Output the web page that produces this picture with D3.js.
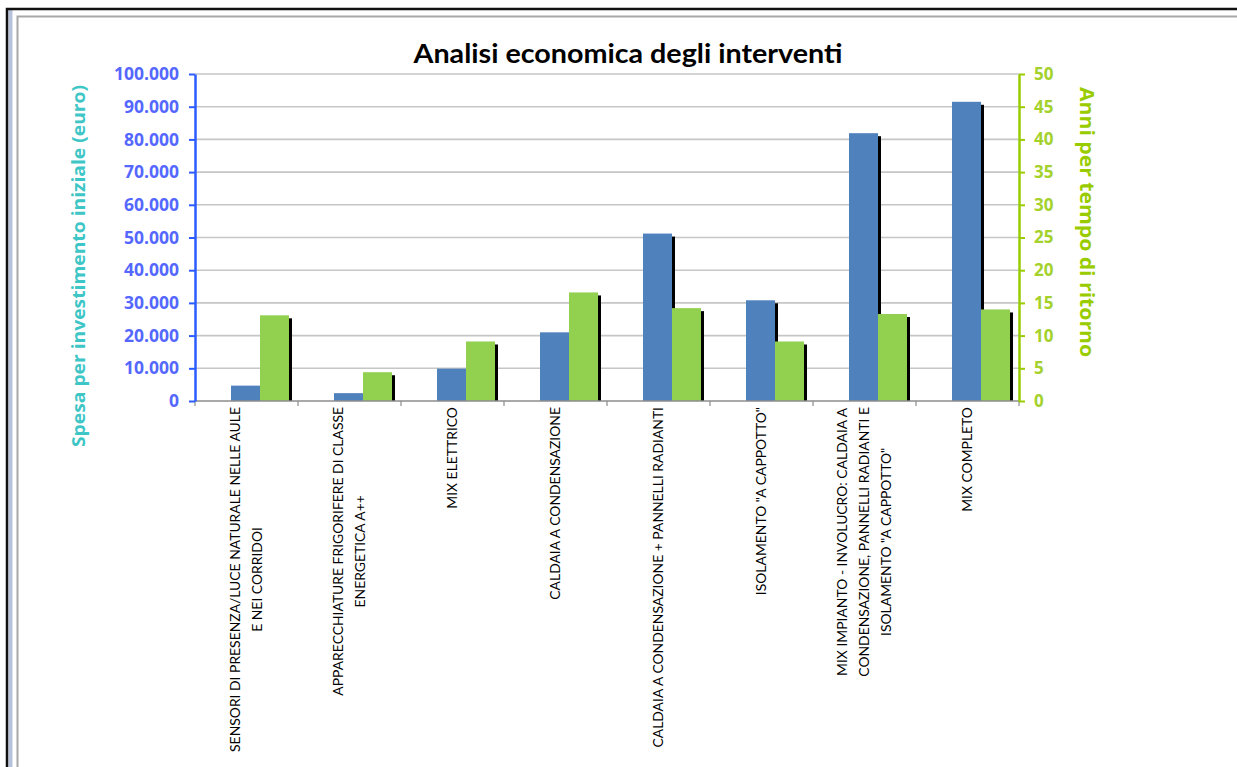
<!DOCTYPE html>
<html>
<head>
<meta charset="utf-8">
<script src="https://cdn.jsdelivr.net/npm/d3@7"></script>
<style>
  body { margin: 0; background: #fff; }
  svg { display: block; }
</style>
</head>
<body>
<svg id="chart"></svg>
<script>
// Categories (already wrapped the way the original shows them)
const categories = [
    ["SENSORI DI PRESENZA/LUCE NATURALE NELLE AULE", "E NEI CORRIDOI"],
    ["APPARECCHIATURE FRIGORIFERE DI CLASSE", "ENERGETICA A++"],
    ["MIX ELETTRICO"],
    ["CALDAIA A CONDENSAZIONE"],
    ["CALDAIA A CONDENSAZIONE + PANNELLI RADIANTI"],
    ["ISOLAMENTO \"A CAPPOTTO\""],
    ["MIX IMPIANTO - INVOLUCRO: CALDAIA A", "CONDENSAZIONE, PANNELLI RADIANTI E", "ISOLAMENTO \"A CAPPOTTO\""],
    ["MIX COMPLETO"]
];

// spesa per investimento iniziale (euro) - left axis
const spesa = [4700, 2400, 9900, 21000, 51200, 30800, 81900, 91500];
// anni per tempo di ritorno - right axis
const anni = [13.1, 4.4, 9.1, 16.6, 14.2, 9.1, 13.3, 14.0];

const leftTicks = d3.range(0, 100001, 10000);
const rightTicks = d3.range(0, 51, 5);

const W = 1237, H = 767;
const plot = { left: 195, right: 1019, top: 74, bottom: 401 };

const svg = d3.select("#chart").attr("width", W).attr("height", H);

// frame of the embedded picture
svg.append("rect").attr("x", 8.5).attr("y", 10).attr("width", 4).attr("height", H)
    .attr("fill", "#b8c2dc");
svg.append("path").attr("d", `M7,${H} V9 H${W}`).attr("fill", "none")
    .attr("stroke", "#111").attr("stroke-width", 2.5);
svg.append("path").attr("d", `M17.5,${H} V16.5 H${W}`).attr("fill", "none")
    .attr("stroke", "#a8a8a8").attr("stroke-width", 2);

// scales
const idx = categories.map((d, i) => i);
const x = d3.scaleBand().domain(idx).range([plot.left, plot.right]).padding(0);
const bw = x.bandwidth();
const xs = d3.scaleBand().domain(["spesa", "anni"])
    .range([bw * 36 / 103, bw * 94 / 103]).padding(0);

const yL = d3.scaleLinear().domain([0, 100000]).range([plot.bottom, plot.top]);
const yR = d3.scaleLinear().domain([0, 50]).range([plot.bottom, plot.top]);

const itFormat = d3.formatLocale({ decimal: ",", thousands: ".", grouping: [3], currency: ["", "€"] }).format(",");

// gridlines
svg.append("g").selectAll("line")
    .data(leftTicks.slice(1))
    .join("line")
    .attr("x1", plot.left).attr("x2", plot.right)
    .attr("y1", d => yL(d)).attr("y2", d => yL(d))
    .attr("stroke", "#c6c6c6").attr("stroke-width", 1.6);

// bars with the little black shadow on the right
const groups = svg.append("g").selectAll("g")
    .data(idx)
    .join("g")
    .attr("transform", i => `translate(${x(i)},0)`);

const series = [
    { key: "spesa", values: spesa, scale: yL, color: "#4f81bd" },
    { key: "anni", values: anni, scale: yR, color: "#92d050" }
];

series.forEach(s => {
    groups.append("rect")
        .attr("x", xs(s.key) + 3)
        .attr("y", i => s.scale(s.values[i]) + 3)
        .attr("width", xs.bandwidth())
        .attr("height", i => plot.bottom - s.scale(s.values[i]) - 3)
        .attr("fill", "#000");
    groups.append("rect")
        .attr("x", xs(s.key))
        .attr("y", i => s.scale(s.values[i]))
        .attr("width", xs.bandwidth())
        .attr("height", i => plot.bottom - s.scale(s.values[i]))
        .attr("fill", s.color);
});

// bottom category axis
svg.append("line")
    .attr("x1", plot.left).attr("x2", plot.right)
    .attr("y1", plot.bottom).attr("y2", plot.bottom)
    .attr("stroke", "#8c8c8c").attr("stroke-width", 1.5);
svg.append("g").selectAll("line")
    .data(idx.concat([categories.length]))
    .join("line")
    .attr("x1", i => plot.left + i * bw).attr("x2", i => plot.left + i * bw)
    .attr("y1", plot.bottom).attr("y2", plot.bottom + 5)
    .attr("stroke", "#8c8c8c").attr("stroke-width", 1.2);

const labels = svg.append("g").selectAll("g")
    .data(idx)
    .join("g")
    .attr("transform", i => `translate(${x(i) + bw / 2},407) rotate(-90)`)
    .style("font-family", "Lato, sans-serif")
    .style("font-size", "13.9px")
    .attr("fill", "#000");

labels.each(function(i) {
    const g = d3.select(this);
    const lines = categories[i];
    const n = lines.length;
    const texts = g.selectAll("text")
        .data(lines)
        .join("text")
        .attr("text-anchor", "middle")
        .attr("y", (d, k) => (k - (n - 1) / 2) * 22)
        .attr("dy", "0.35em")
        .text(d => d);
    let maxLen = 0;
    texts.each(function() { maxLen = Math.max(maxLen, this.getComputedTextLength()); });
    texts.attr("x", -maxLen / 2);
});

// left axis
const axL = svg.append("g")
    .attr("transform", `translate(${plot.left},0)`)
    .call(d3.axisLeft(yL).tickValues(leftTicks).tickFormat(itFormat).tickSizeInner(6).tickSizeOuter(0).tickPadding(10));
axL.select(".domain").attr("stroke", "#2b5cff").attr("stroke-width", 2.5);
axL.selectAll(".tick line").attr("stroke", "#2b5cff").attr("stroke-width", 2);
axL.selectAll(".tick text")
    .attr("fill", "#5468ff")
    .style("font-family", "'Open Sans', sans-serif")
    .style("font-size", "17.5px")
    .style("font-weight", "bold");

// right axis
const axR = svg.append("g")
    .attr("transform", `translate(${plot.right},0)`)
    .call(d3.axisRight(yR).tickValues(rightTicks).tickSizeInner(6).tickSizeOuter(0).tickPadding(9));
axR.select(".domain").attr("stroke", "#99cc00").attr("stroke-width", 2.5);
axR.selectAll(".tick line").attr("stroke", "#99cc00").attr("stroke-width", 2);
axR.selectAll(".tick text")
    .attr("fill", "#a4d12c")
    .style("font-family", "'Open Sans', sans-serif")
    .style("font-size", "17px")
    .style("font-weight", "bold");

// title
svg.append("text")
    .attr("x", 628).attr("y", 63)
    .attr("text-anchor", "middle")
    .attr("textLength", 429)
    .attr("lengthAdjust", "spacingAndGlyphs")
    .style("font-family", "Lato, sans-serif")
    .style("font-size", "27px")
    .style("font-weight", "bold")
    .attr("fill", "#000")
    .text("Analisi economica degli interventi");

// axis titles
svg.append("text")
    .attr("transform", `translate(79,266) rotate(-90)`)
    .attr("text-anchor", "middle")
    .attr("dy", "0.35em")
    .attr("textLength", 362)
    .attr("lengthAdjust", "spacingAndGlyphs")
    .style("font-family", "'Open Sans', sans-serif")
    .style("font-size", "18.5px")
    .style("font-weight", "bold")
    .attr("fill", "#3ec6c6")
    .text("Spesa per investimento iniziale (euro)");

svg.append("text")
    .attr("transform", `translate(1087,222) rotate(90)`)
    .attr("text-anchor", "middle")
    .attr("dy", "0.35em")
    .attr("textLength", 270)
    .attr("lengthAdjust", "spacingAndGlyphs")
    .style("font-family", "'Open Sans', sans-serif")
    .style("font-size", "20px")
    .style("font-weight", "bold")
    .attr("fill", "#99cc00")
    .text("Anni per tempo di ritorno");
</script>
</body>
</html>
